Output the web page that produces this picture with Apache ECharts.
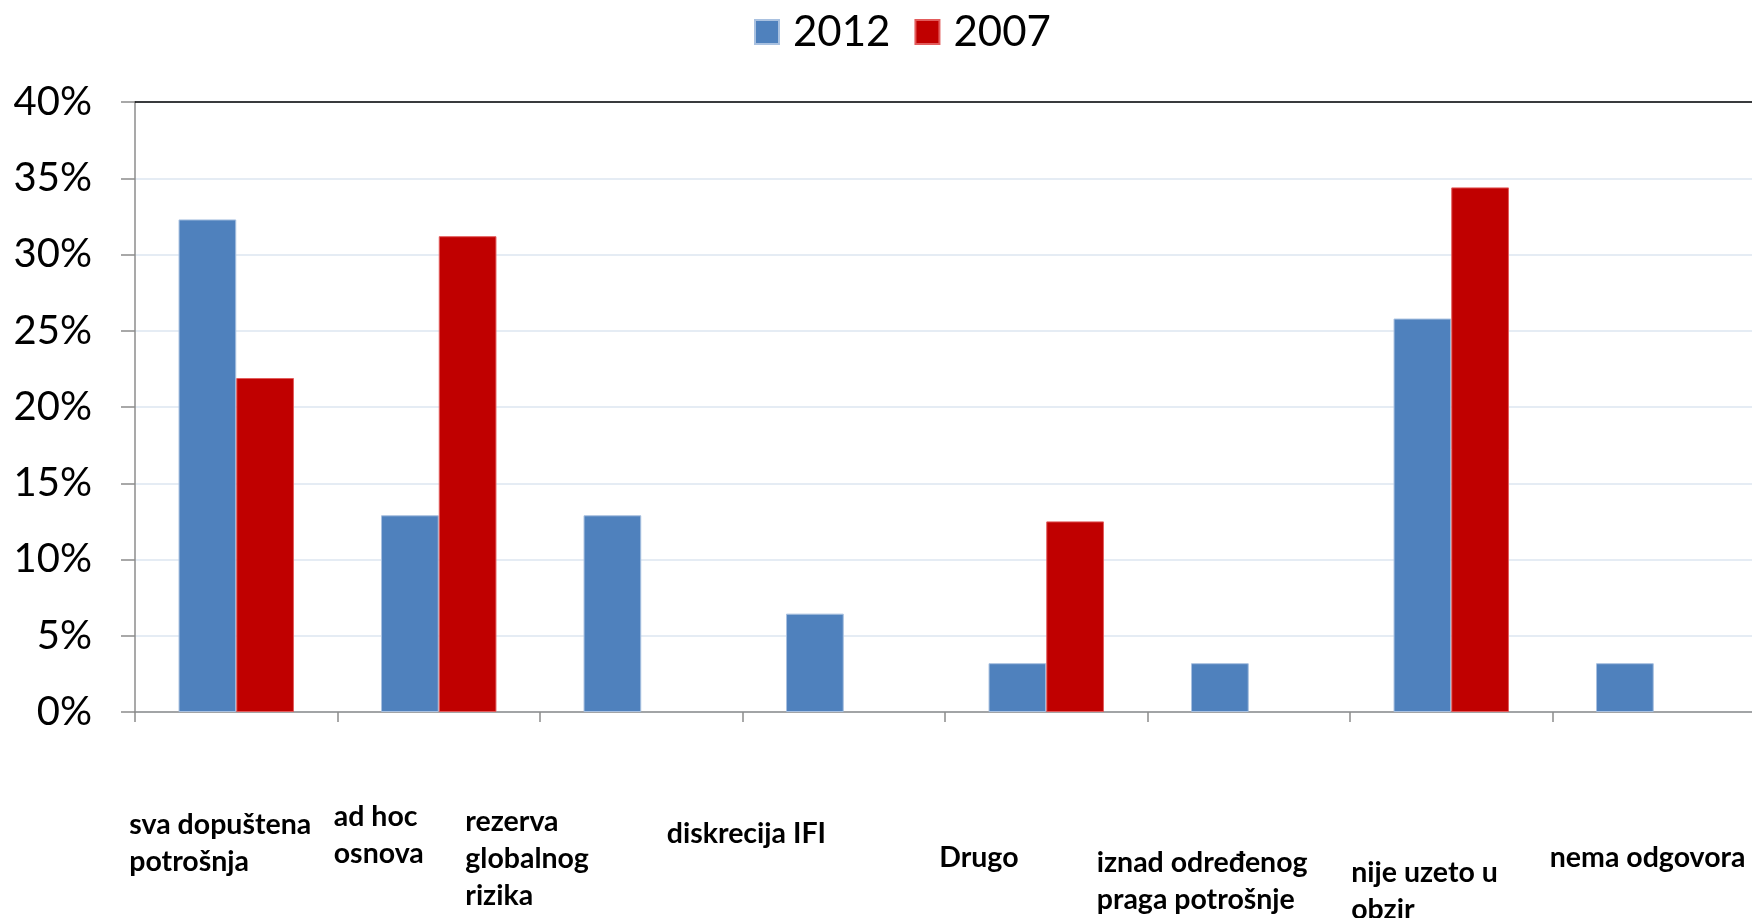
<!DOCTYPE html>
<html>
<head>
<meta charset="utf-8">
<script src="https://cdn.jsdelivr.net/npm/echarts@6/dist/echarts.min.js"></script>
<style>
  html, body { margin: 0; padding: 0; background: #fff; }
  #main { width: 1752px; height: 918px; }
</style>
</head>
<body>
<div id="main"></div>
<script>
// podaci
var categories = ['sva dopuštena\npotrošnja', 'ad hoc\nosnova', 'rezerva\nglobalnog\nrizika', 'diskrecija IFI',
  'Drugo', 'iznad određenog\npraga potrošnje', 'nije uzeto u\nobzir', 'nema odgovora']
var seriesNames = ['2012', '2007']
var values2012 = [32.3, 12.9, 12.9, 6.45, 3.2, 3.2, 25.8, 3.2]
var values2007 = [21.9, 31.2, null, null, 12.5, null, 34.4, null]
var yTicks = [0, 5, 10, 15, 20, 25, 30, 35, 40]

// pomaci natpisa (labels are scattered in the original)
var labelShiftX = [107, 105, 176, 177, 107, 152, 100, 104]
var labelShiftY = [10, 2, 7, 19, 43, 48, 58, 43]

var rich = {}
categories.forEach(function(c, i) {
  rich['s' + i] = { fontSize: 1, lineHeight: labelShiftY[i] }
  rich['t' + i] = { width: labelShiftX[i] * 2, align: 'left', lineHeight: 37 }
})

var myChart = echarts.init(document.getElementById('main'))
var option = {
  animation: false,
  textStyle: { fontFamily: 'Lato' },
  legend: {
    data: seriesNames,
    left: 749,
    top: 6,
    itemWidth: 24,
    itemHeight: 24,
    itemGap: 24,
    icon: 'rect',
    textStyle: { fontSize: 42, color: '#000', padding: [0, 0, 0, 9] }
  },
  grid: { left: 135, right: -3, top: 102, bottom: 206, containLabel: false, outerBoundsMode: 'none' },
  xAxis: [
    {
      type: 'category',
      data: categories,
      axisLine: { lineStyle: { color: '#8c8c8c', width: 1.5 } },
      axisTick: { show: true, length: 10, lineStyle: { color: '#8c8c8c', width: 1.5 } },
      axisLabel: {
        interval: 0,
        margin: 84,
        align: 'center',
        verticalAlign: 'top',
        fontSize: 28.5,
        fontWeight: 'bold',
        color: '#000',
        hideOverlap: false,
        formatter: function(value, idx) {
          var lines = value.split('\n').map(function(l) {
            return '{t' + idx + '|' + l + '}'
          })
          if (labelShiftY[idx] > 0) lines.unshift('{s' + idx + '| }')
          return lines.join('\n')
        },
        rich: rich
      }
    },
    {
      type: 'category',
      position: 'top',
      data: categories,
      axisLine: { show: true, lineStyle: { color: '#000', width: 1.5 } },
      axisTick: { show: false },
      axisLabel: { show: false }
    }
  ],
  yAxis: {
    type: 'value',
    min: yTicks[0],
    max: yTicks[yTicks.length - 1],
    interval: 5,
    axisLine: { show: true, lineStyle: { color: '#8c8c8c', width: 1.5 } },
    axisTick: { show: true, length: 14, lineStyle: { color: '#8c8c8c', width: 1.5 } },
    axisLabel: { fontSize: 40, color: '#000', margin: 43, formatter: '{value}%' },
    splitLine: { show: true, lineStyle: { color: '#dde6f1', width: 1.5 } }
  },
  series: [
    {
      name: seriesNames[0],
      type: 'bar',
      data: values2012,
      barGap: '0%',
      barCategoryGap: '43%',
      itemStyle: { color: '#4f81bd', borderColor: '#a9c1e0', borderWidth: 1 }
    },
    {
      name: seriesNames[1],
      type: 'bar',
      data: values2007,
      barGap: '0%',
      barCategoryGap: '43%',
      itemStyle: { color: '#c00000', borderColor: '#e25c5c', borderWidth: 1 }
    }
  ]
}
myChart.setOption(option)
</script>
</body>
</html>
